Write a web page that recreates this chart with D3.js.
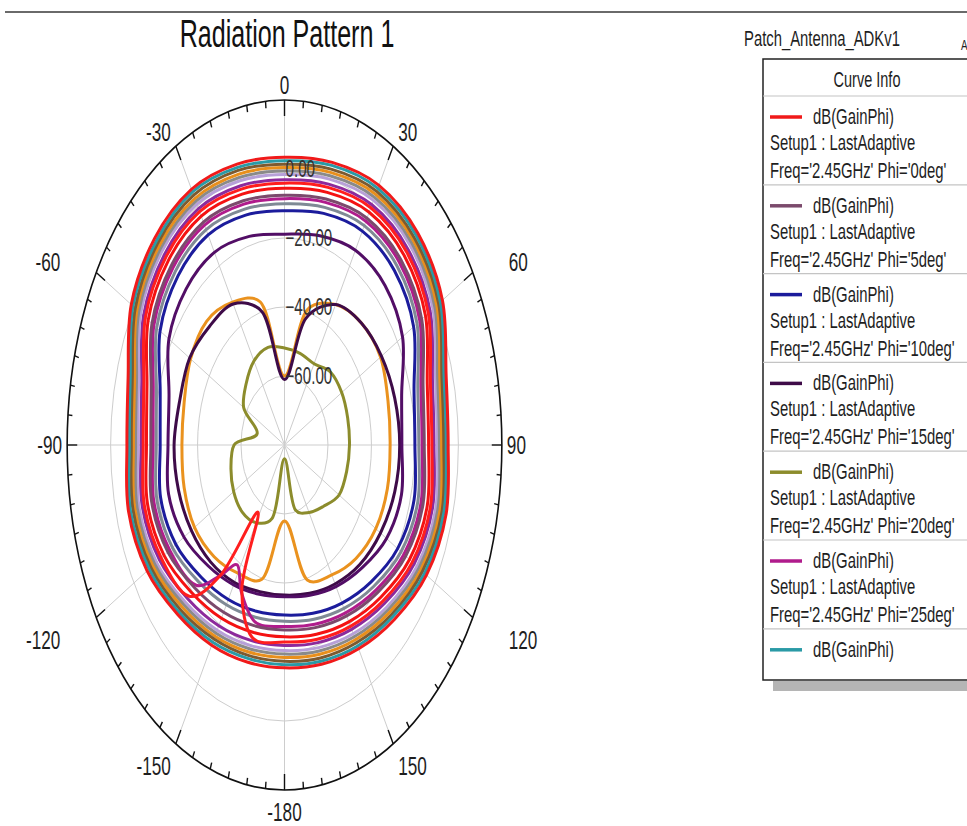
<!DOCTYPE html>
<html>
<head>
<meta charset="utf-8">
<title>Radiation Pattern 1</title>
<script src="https://cdn.jsdelivr.net/npm/d3@7"></script>
<style>
  body { margin: 0; background: #fff; }
  text { font-family: "Liberation Sans", Arial, sans-serif; fill: #1e1e1e; }
</style>
</head>
<body>
<svg id="chart" width="967" height="826"></svg>
<script>
// angle grid (deg) used by most curves, and a finer one for the two curves with a null near -148
var thetaDeg = [-180, -165, -150, -135, -120, -105, -90, -75, -60, -45, -30, -15,
                0, 15, 30, 45, 60, 75, 90, 105, 120, 135, 150, 165];
var thetaNull = [-180, -165, -155, -148, -142, -135, -120, -105, -90, -75, -60, -45, -30, -15,
                 0, 15, 30, 45, 60, 75, 90, 105, 120, 135, 150, 165];

// dB(GainPhi)
var phi0Db  = [-15.4, -14.8, -13.0, -10.5, -7.0, -5.7, -7.5, -5.5, 1.4, 4.6, 5.6, 4.3,
               3.4, 4.8, 6.9, 6.8, 3.9, -3.0, -4.7, -3.0, -4.6, -8.5, -11.8, -14.2];
var phi5Db  = [-26.4, -25.8, -24.0, -21.5, -18.0, -16.7, -18.5, -16.5, -9.6, -6.4, -5.4, -6.7,
               -7.6, -6.2, -4.1, -4.2, -7.1, -14.0, -15.7, -14.0, -15.6, -19.5, -22.8, -25.2];
var phi10Db = [-30.7, -30.1, -28.3, -25.8, -22.3, -21.0, -22.8, -20.8, -13.9, -10.7, -9.7, -11.0,
               -12.1, -10.5, -8.4, -8.5, -11.4, -18.3, -20.0, -18.3, -19.9, -23.8, -27.1, -29.5];
var phi15Db = [-36.5, -36.0, -34.0, -32.0, -30.5, -29.5, -29.2, -30.1, -29.6, -31.3, -32.8, -40.0,
               -61.0, -42.0, -33.0, -30.0, -28.5, -27.5, -27.0, -27.5, -29.0, -31.0, -33.5, -35.5];
var phi20Db = [-76.0, -58.0, -54.0, -52.5, -53.0, -54.5, -56.8, -67.0, -58.3, -55.0, -51.9, -50.7,
               -51.9, -52.5, -52.8, -50.1, -49.6, -49.9, -50.1, -50.4, -51.0, -54.8, -57.4, -60.5];
var phi25Db = [-27.4, -27.0, -33.0, -39.0, -32.0, -22.5, -19.0, -17.7, -19.5, -17.5, -10.6, -7.4, -6.4,
               -7.7, -8.6, -7.2, -5.1, -5.2, -8.1, -15.0, -16.7, -15.0, -16.6, -20.5, -23.8, -26.2];
var phi30Db = [-16.3, -15.9, -14.0, -11.4, -8.1, -6.6, -8.6, -6.5, 0.5, 3.5, 4.7, 3.3,
               2.4, 3.9, 5.9, 5.8, 2.8, -4.0, -5.6, -4.1, -5.6, -9.6, -12.7, -15.1];
var phi35Db = [-17.3, -16.8, -15.1, -12.4, -9.0, -7.8, -9.5, -7.5, -0.7, 2.6, 3.6, 2.4,
               1.4, 2.8, 4.9, 4.7, 1.9, -5.0, -6.7, -5.0, -6.7, -10.4, -13.8, -16.1];
var phi40Db = [-18.4, -17.8, -16.0, -13.5, -10.0, -8.7, -10.5, -8.6, -1.6, 1.6, 2.5, 1.3,
               0.4, 1.8, 3.9, 3.8, 0.9, -6.0, -7.7, -6.0, -7.6, -11.5, -14.8, -17.2];
var phi45Db = [-19.4, -18.8, -17.0, -14.5, -11.0, -9.8, -11.5, -9.5, -2.6, 0.6, 1.6, 0.3,
               -0.6, 0.8, 2.9, 2.8, -0.1, -7.0, -8.7, -7.0, -8.6, -12.5, -15.8, -18.2];
var phi50Db = [-20.4, -19.8, -18.0, -15.5, -12.0, -10.7, -12.5, -10.5, -3.6, -0.4, 0.6, -0.7,
               -1.6, -0.2, 1.9, 1.8, -1.1, -8.0, -9.7, -8.0, -9.6, -13.5, -16.8, -19.2];
var phi55Db = [-21.9, -21.3, -19.5, -17.0, -13.5, -12.2, -14.0, -12.0, -5.1, -1.9, -0.9, -2.2,
               -3.1, -1.7, 0.4, 0.3, -2.6, -9.5, -11.2, -9.5, -11.1, -15.0, -18.3, -20.7];
var phi60Db = [-22.9, -22.3, -33.5, -57.0, -32.0, -18.0, -14.5, -13.2, -15.0, -13.0, -6.1, -2.9, -1.9,
               -3.2, -4.1, -2.7, -0.6, -0.7, -3.6, -10.5, -12.2, -10.5, -12.1, -16.0, -19.3, -21.7];
var phi65Db = [-24.4, -23.8, -22.0, -19.5, -16.0, -14.7, -16.5, -14.5, -7.6, -4.4, -3.4, -4.7,
               -5.6, -4.2, -2.1, -2.2, -5.1, -12.0, -13.7, -12.0, -13.6, -17.5, -20.8, -23.2];
var phi70Db = [-28.9, -28.3, -26.5, -24.0, -20.5, -19.2, -21.0, -19.0, -12.1, -8.9, -7.9, -9.2,
               -10.1, -8.7, -6.6, -6.7, -9.6, -16.5, -18.2, -16.5, -18.1, -22.0, -25.3, -27.7];
var phi75Db = [-36.0, -35.2, -33.2, -30.4, -26.6, -24.8, -26.4, -25.0, -18.6, -16.0, -15.5, -17.4,
               -18.9, -17.2, -14.8, -14.6, -17.3, -24.2, -26.0, -24.3, -25.8, -29.6, -32.6, -34.9];
var phi80Db = [-58.0, -39.7, -37.1, -34.2, -32.2, -32.2, -32.8, -32.2, -30.1, -29.3, -32.2, -37.1,
               -60.0, -39.4, -33.0, -30.0, -29.0, -30.7, -31.4, -31.0, -31.5, -33.5, -36.5, -39.5];

var seriesColors = {
  phi0: "#f01a1a", phi5: "#7b4a6c", phi10: "#1c1c9c", phi15: "#3e0b48", phi20: "#8c8c2c",
  phi25: "#b01c8c", phi30: "#2a9aa6", phi35: "#7d5a30", phi40: "#e88f1c", phi45: "#8a8a8a",
  phi50: "#b7a0d8", phi55: "#8c2a9c", phi60: "#ff1e1e", phi65: "#f41212", phi70: "#7f8a95",
  phi75: "#520e66", phi80: "#ea921e"
};

// legend rows that fit in the visible box
var legendPhi = ["0deg", "5deg", "10deg", "15deg", "20deg", "25deg", null];
var legendKeys = ["phi0", "phi5", "phi10", "phi15", "phi20", "phi25", "phi30"];

var radialTicks = [-60, -40, -20, 0];
var angleLabels = [0, 30, 60, 90, 120, 150, 180, -150, -120, -90, -60, -30];
var angleText = ["0", "30", "60", "90", "120", "150", "-180", "-150", "-120", "-90", "-60", "-30"];

// ---------------------------------------------------------------
var svg = d3.select("#chart");
var cx = 284.5, cy = 445, sx = 0.63, R = 345, tsx = 0.66;

var r = d3.scaleLinear().domain([-80, 20]).range([0, R]);
var rad = function(a) { return a * Math.PI / 180; };

var txt = function(x, y, s, size, anchor) {
  return svg.append("text")
    .attr("transform", "translate(" + x + "," + y + ") scale(" + tsx + ",1)")
    .attr("text-anchor", anchor || "start")
    .style("font-size", size + "px")
    .text(s);
};

// top rule
svg.append("line")
  .attr("x1", 5).attr("x2", 967).attr("y1", 12).attr("y2", 12)
  .attr("stroke", "#6a6a6a").attr("stroke-width", 2);

txt(287, 47, "Radiation Pattern 1", 38, "middle").style("fill", "#111");

var plot = svg.append("g")
  .attr("transform", "translate(" + cx + "," + cy + ") scale(" + sx + ",1)");

// grid
plot.selectAll("circle.grid")
  .data(radialTicks)
  .join("circle")
  .attr("class", "grid")
  .attr("r", function(d) { return r(d); })
  .attr("fill", "none")
  .attr("stroke", "#cdcdcd")
  .attr("stroke-width", 1)
  .attr("vector-effect", "non-scaling-stroke");

plot.selectAll("line.spoke")
  .data(d3.range(0, 360, 30))
  .join("line")
  .attr("class", "spoke")
  .attr("x1", 0).attr("y1", 0)
  .attr("x2", function(d) { return R * Math.sin(rad(d)); })
  .attr("y2", function(d) { return -R * Math.cos(rad(d)); })
  .attr("stroke", "#cdcdcd")
  .attr("stroke-width", 1)
  .attr("vector-effect", "non-scaling-stroke");

// radial labels sit under the curves
radialTicks.forEach(function(v) {
  txt(cx + 1, cy - r(v) + 8, d3.format(".2f")(v), 23, "start").style("fill", "#333");
});

// curves
var line = d3.lineRadial()
  .angle(function(d) { return rad(d[0]); })
  .radius(function(d) { return r(d[1]); })
  .curve(d3.curveCatmullRomClosed.alpha(0.5));

var curves = [
  ["phi20", thetaDeg, phi20Db],
  ["phi80", thetaDeg, phi80Db],
  ["phi15", thetaDeg, phi15Db],
  ["phi75", thetaDeg, phi75Db],
  ["phi10", thetaDeg, phi10Db],
  ["phi70", thetaDeg, phi70Db],
  ["phi25", thetaNull, phi25Db],
  ["phi5", thetaDeg, phi5Db],
  ["phi65", thetaDeg, phi65Db],
  ["phi55", thetaDeg, phi55Db],
  ["phi50", thetaDeg, phi50Db],
  ["phi45", thetaDeg, phi45Db],
  ["phi40", thetaDeg, phi40Db],
  ["phi35", thetaDeg, phi35Db],
  ["phi30", thetaDeg, phi30Db],
  ["phi60", thetaNull, phi60Db],
  ["phi0", thetaDeg, phi0Db]
];

plot.selectAll("path.curve")
  .data(curves)
  .join("path")
  .attr("class", "curve")
  .attr("d", function(c) { return line(d3.zip(c[1], c[2])); })
  .attr("fill", "none")
  .attr("stroke", function(c) { return seriesColors[c[0]]; })
  .attr("stroke-width", 3)
  .attr("stroke-linejoin", "round")
  .attr("vector-effect", "non-scaling-stroke");

// outer ring and ticks
plot.append("circle")
  .attr("r", R)
  .attr("fill", "none")
  .attr("stroke", "#111")
  .attr("stroke-width", 1.6)
  .attr("vector-effect", "non-scaling-stroke");

plot.selectAll("line.tick")
  .data(d3.range(-180, 180, 5))
  .join("line")
  .attr("class", "tick")
  .attr("x1", function(d) { return R * Math.sin(rad(d)); })
  .attr("y1", function(d) { return -R * Math.cos(rad(d)); })
  .attr("x2", function(d) { return (R - (d % 30 === 0 ? 16 : 7)) * Math.sin(rad(d)); })
  .attr("y2", function(d) { return -(R - (d % 30 === 0 ? 16 : 7)) * Math.cos(rad(d)); })
  .attr("stroke", "#111")
  .attr("stroke-width", 1.4)
  .attr("vector-effect", "non-scaling-stroke");

// angle labels
angleLabels.forEach(function(a, i) {
  var s = Math.sin(rad(a)), c = Math.cos(rad(a));
  var px = cx + sx * R * s, py = cy - R * c;
  var dy = c >= 0 ? -15 * Math.sqrt(c) : 22;
  var gap = Math.abs(Math.abs(a) - 90) === 30 ? 36 : 5;
  var anchor = Math.abs(s) < 0.1 ? "middle" : (s > 0 ? "start" : "end");
  var x = anchor === "middle" ? px : px + (s > 0 ? gap : -gap);
  txt(x, py + dy + 9, angleText[i], 26, anchor);
});

// legend
txt(744, 46, "Patch_Antenna_ADKv1", 22.5, "start");
txt(961, 50, "ANSOFT", 15, "start");

var lx = 763, ly = 59, lh = 621, rowH = 88.8;
svg.append("rect")
  .attr("x", lx + 10).attr("y", ly + lh + 1)
  .attr("width", 220).attr("height", 10)
  .attr("fill", "#b5b5b5");
svg.append("rect")
  .attr("x", lx).attr("y", ly)
  .attr("width", 230).attr("height", lh)
  .attr("fill", "#fff")
  .attr("stroke", "#222")
  .attr("stroke-width", 1.5);

txt(867, 87, "Curve Info", 22, "middle");

legendKeys.forEach(function(k, i) {
  var top = 96 + i * rowH;
  svg.append("line")
    .attr("x1", lx).attr("x2", 967).attr("y1", top).attr("y2", top)
    .attr("stroke", "#c4c4c4").attr("stroke-width", 1.2);
  svg.append("line")
    .attr("x1", 770).attr("x2", 802).attr("y1", top + 21).attr("y2", top + 21)
    .attr("stroke", seriesColors[k]).attr("stroke-width", 3.5);
  txt(813, top + 28, "dB(GainPhi)", 22.5, "start");
  if (legendPhi[i]) {
    txt(770, top + 54, "Setup1 : LastAdaptive", 22.5, "start");
    txt(770, top + 82, "Freq='2.45GHz' Phi='" + legendPhi[i] + "'", 22.5, "start");
  }
});
</script>
</body>
</html>
